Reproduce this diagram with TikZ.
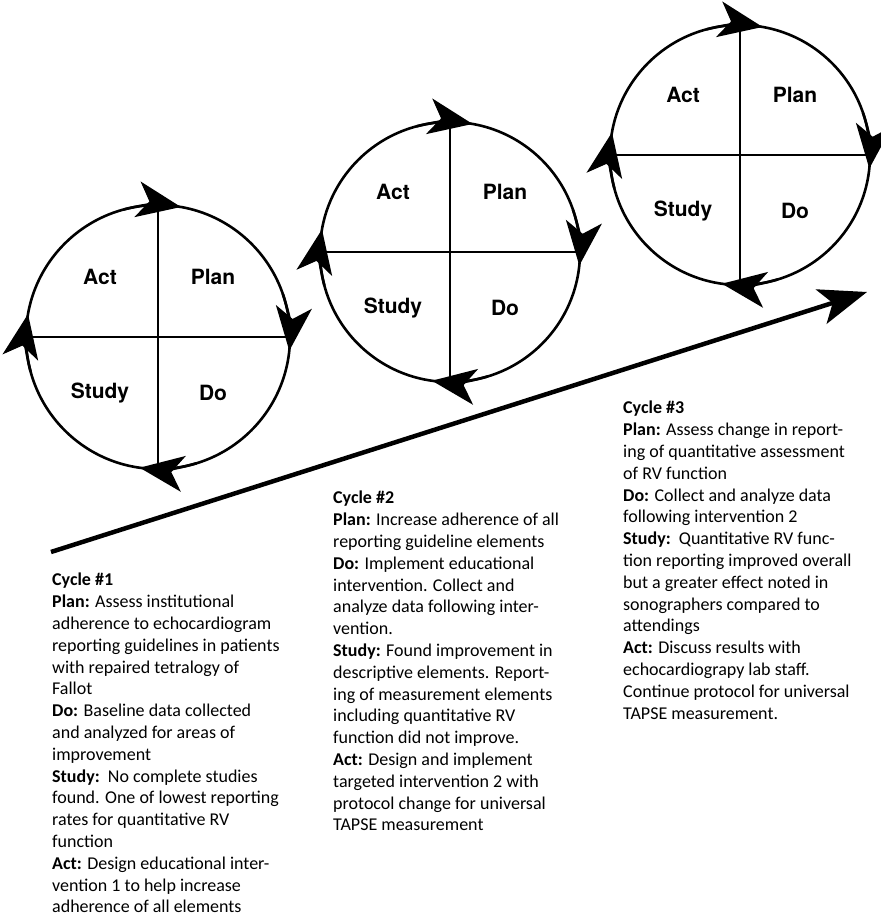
\documentclass[tikz,border=0pt]{standalone}
\usepackage{fontspec}
\setmainfont{Carlito}
\newfontfamily\labelfont{TeX Gyre Heros}
\usepackage{tikz}
\usetikzlibrary{arrows.meta,calc}

\begin{document}
\begin{tikzpicture}[x=1pt, y=1pt,
  ring/.style={line width=2.6pt},
  quad/.style={line width=2.4pt},
  tipArc/.style={line width=2.6pt, -{Stealth[length=44pt, width=36pt, inset=12pt]}},
  rise/.style={line width=4.5pt, -{Stealth[length=48pt, width=36pt, inset=12pt]}},
  phase/.style={font=\fontsize{21}{21}\labelfont\bfseries},
  notes/.style={anchor=north west, align=left, inner sep=0pt, font=\fontsize{18}{21.8}\selectfont}
]
\useasboundingbox (0,0) rectangle (880,917);

% Cycle 1 wheel
\coordinate (c1) at (158,580);
\draw[ring] (c1) circle[radius=132];
\draw[quad] ($(c1)+(-132,0)$) -- ($(c1)+(132,0)$);
\draw[quad] ($(c1)+(0,-132)$) -- ($(c1)+(0,132)$);
\draw[tipArc] ($(c1)+(105:132)$) arc[start angle=105, end angle=80, radius=132];
\draw[tipArc] ($(c1)+(19:132)$) arc[start angle=19, end angle=-6, radius=132];
\draw[tipArc] ($(c1)+(-73:132)$) arc[start angle=-73, end angle=-98, radius=132];
\draw[tipArc] ($(c1)+(-165:132)$) arc[start angle=-165, end angle=-190, radius=132];
\node[phase] (c1act) at ($(c1)+(-58,60)$) {Act};
\node[phase] (c1plan) at ($(c1)+(55,60)$) {Plan};
\node[phase] (c1study) at ($(c1)+(-58,-56)$) {Study};
\node[phase] (c1do) at ($(c1)+(55,-56)$) {Do};

% Cycle 2 wheel
\coordinate (c2) at (450,665);
\draw[ring] (c2) circle[radius=130];
\draw[quad] ($(c2)+(-130,0)$) -- ($(c2)+(130,0)$);
\draw[quad] ($(c2)+(0,-130)$) -- ($(c2)+(0,130)$);
\draw[tipArc] ($(c2)+(105:130)$) arc[start angle=105, end angle=80, radius=130];
\draw[tipArc] ($(c2)+(19:130)$) arc[start angle=19, end angle=-6, radius=130];
\draw[tipArc] ($(c2)+(-73:130)$) arc[start angle=-73, end angle=-98, radius=130];
\draw[tipArc] ($(c2)+(-165:130)$) arc[start angle=-165, end angle=-190, radius=130];
\node[phase] (c2act) at ($(c2)+(-57,60)$) {Act};
\node[phase] (c2plan) at ($(c2)+(55,60)$) {Plan};
\node[phase] (c2study) at ($(c2)+(-57,-56)$) {Study};
\node[phase] (c2do) at ($(c2)+(55,-56)$) {Do};

% Cycle 3 wheel
\coordinate (c3) at (740,762);
\draw[ring] (c3) circle[radius=130];
\draw[quad] ($(c3)+(-130,0)$) -- ($(c3)+(130,0)$);
\draw[quad] ($(c3)+(0,-130)$) -- ($(c3)+(0,130)$);
\draw[tipArc] ($(c3)+(105:130)$) arc[start angle=105, end angle=80, radius=130];
\draw[tipArc] ($(c3)+(19:130)$) arc[start angle=19, end angle=-6, radius=130];
\draw[tipArc] ($(c3)+(-73:130)$) arc[start angle=-73, end angle=-98, radius=130];
\draw[tipArc] ($(c3)+(-165:130)$) arc[start angle=-165, end angle=-190, radius=130];
\node[phase] (c3act) at ($(c3)+(-57,60)$) {Act};
\node[phase] (c3plan) at ($(c3)+(55,60)$) {Plan};
\node[phase] (c3study) at ($(c3)+(-57,-56)$) {Study};
\node[phase] (c3do) at ($(c3)+(55,-56)$) {Do};

% Rising arrow
\coordinate (riseStart) at (51,365);
\coordinate (riseEnd) at (867,625);
\draw[rise] (riseStart) -- (riseEnd);

% Notes
\node[notes] (note1) at (52,344) {\textbf{Cycle \#1}\\
\textbf{Plan:} Assess institutional\\
adherence to echocardiogram\\
reporting guidelines in patients\\
with repaired tetralogy of\\
Fallot\\
\textbf{Do:} Baseline data collected\\
and analyzed for areas of\\
improvement\\
\textbf{Study:}\ \ No complete studies\\
found. One of lowest reporting\\
rates for quantitative RV\\
function\\
\textbf{Act:} Design educational inter-\\
vention 1 to help increase\\
adherence of all elements};

\node[notes] (note2) at (333,426) {\textbf{Cycle \#2}\\
\textbf{Plan:} Increase adherence of all\\
reporting guideline elements\\
\textbf{Do:} Implement educational\\
intervention. Collect and\\
analyze data following inter-\\
vention.\\
\textbf{Study:} Found improvement in\\
descriptive elements. Report-\\
ing of measurement elements\\
including quantitative RV\\
function did not improve.\\
\textbf{Act:} Design and implement\\
targeted intervention 2 with\\
protocol change for universal\\
TAPSE measurement};

\node[notes] (note3) at (623,516) {\textbf{Cycle \#3}\\
\textbf{Plan:} Assess change in report-\\
ing of quantitative assessment\\
of RV function\\
\textbf{Do:} Collect and analyze data\\
following intervention 2\\
\textbf{Study:}\ \ Quantitative RV func-\\
tion reporting improved overall\\
but a greater effect noted in\\
sonographers compared to\\
attendings\\
\textbf{Act:} Discuss results with\\
echocardiograpy lab staff.\\
Continue protocol for universal\\
TAPSE measurement.};

\end{tikzpicture}
\end{document}
